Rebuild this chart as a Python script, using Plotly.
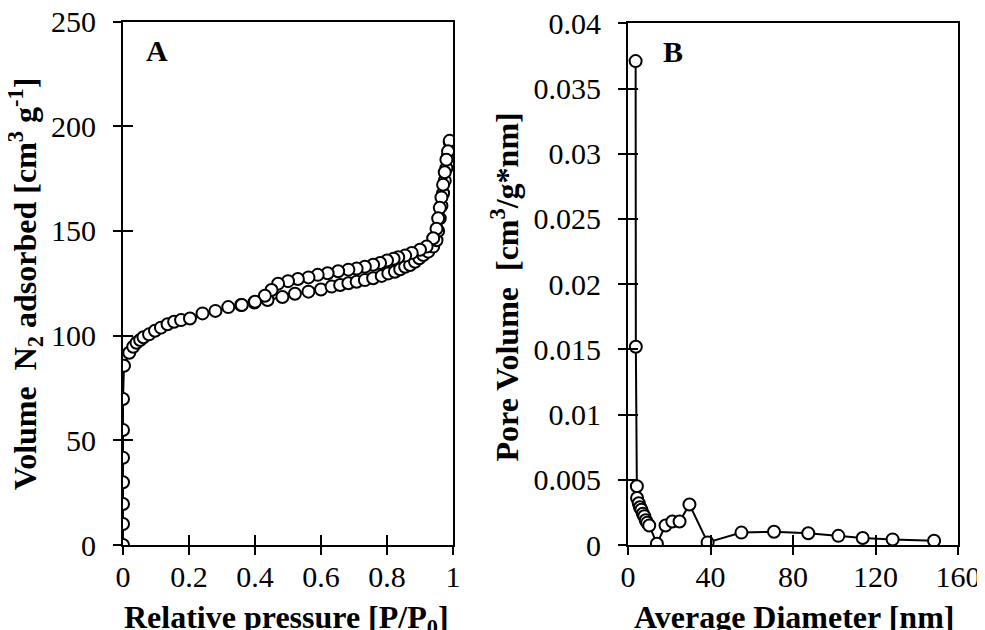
import plotly.graph_objs as go

# Panel A: N2 isotherm, relative pressure vs volume adsorbed
ads_p = [0.0, 0.0, 0.0, 0.0, 0.0, 0.0, 0.0, 0.003, 0.019, 0.031, 0.041, 0.052,
         0.062, 0.079, 0.097, 0.115, 0.135, 0.155, 0.176, 0.203, 0.241, 0.28,
         0.319, 0.358, 0.398, 0.438, 0.483, 0.521, 0.562, 0.6, 0.632, 0.658,
         0.683, 0.708, 0.733, 0.758, 0.784, 0.804, 0.824, 0.84, 0.855, 0.87,
         0.885, 0.898, 0.91, 0.925, 0.94, 0.95, 0.955, 0.96, 0.965, 0.97,
         0.975, 0.98, 0.985, 0.99]
ads_v = [0, 10, 19.6, 30, 41.7, 54.9, 69.7, 85.6, 91.8, 94.7, 96.6, 97.9,
         99.2, 100.6, 102.3, 103.8, 105.4, 106.6, 107.4, 108.2, 110.6, 111.8,
         113.6, 114.6, 115.8, 117.0, 118.4, 120.0, 121.0, 122.0, 123.4, 124.2,
         125.0, 125.7, 126.5, 127.4, 128.5, 129.7, 130.5, 131.7, 132.9, 133.7,
         135.3, 136.9, 138.5, 140.1, 142.5, 145.5, 150, 156, 162, 168,
         174, 180, 186, 192.5]

des_p = [0.99, 0.985, 0.98, 0.975, 0.97, 0.965, 0.96, 0.955, 0.95, 0.94,
         0.92, 0.9, 0.875, 0.855, 0.834, 0.82, 0.8, 0.779, 0.758, 0.733,
         0.708, 0.683, 0.652, 0.62, 0.59, 0.562, 0.53, 0.5, 0.47, 0.45,
         0.43, 0.4, 0.36]
des_v = [193, 188, 184, 178, 172, 166, 161, 156, 151, 146.5,
         142.5, 141, 139.5, 138.2, 137.4, 136.7, 135.9, 134.7, 133.8, 132.9,
         132.0, 131.5, 130.7, 129.8, 129.0, 127.8, 127.0, 126.0, 124.8, 121.8,
         119.0, 116.2, 114.6]

# Panel B: pore size distribution
diam = [3.7, 3.8, 4.3, 4.4, 5.2, 5.8, 6.5, 7.2, 7.9, 8.6, 9.3, 10.3,
        14.0, 18.2, 21.5, 25.0, 29.8, 38.6, 55.0, 70.8, 87.4, 102.0,
        113.8, 128.3, 148.4]
pore_vol = [0.0371, 0.0152, 0.0045, 0.0036, 0.0032, 0.0029, 0.0027, 0.0024,
            0.0022, 0.0019, 0.0017, 0.0015, 0.0001, 0.0015, 0.0018, 0.0018,
            0.0031, 0.0002, 0.00095, 0.00102, 0.0009, 0.0007, 0.00054,
            0.00043, 0.00033]

a_xticks = [0, 0.2, 0.4, 0.6, 0.8, 1]
a_xlabels = ["0", "0.2", "0.4", "0.6", "0.8", "1"]
a_yticks = [0, 50, 100, 150, 200, 250]
a_ylabels = ["0", "50", "100", "150", "200", "250"]
b_xticks = [0, 40, 80, 120, 160]
b_xlabels = ["0", "40", "80", "120", "160"]
b_yticks = [0, 0.005, 0.01, 0.015, 0.02, 0.025, 0.03, 0.035, 0.04]
b_ylabels = ["0", "0.005", "0.01", "0.015", "0.02", "0.025", "0.03", "0.035", "0.04"]

FONT = "Liberation Serif"
# page body has an 8px margin, so the figure is laid out 8px in from the window
W, H = 977, 622
OFF = 8

marker = dict(symbol="circle", size=12, color="white", line=dict(color="black", width=2))
line = dict(color="black", width=2)

fig = go.Figure()
fig.add_trace(go.Scatter(x=ads_p, y=ads_v, mode="lines+markers", marker=marker,
                         line=line, xaxis="x", yaxis="y"))
fig.add_trace(go.Scatter(x=des_p, y=des_v, mode="lines+markers", marker=marker,
                         line=line, xaxis="x", yaxis="y"))
fig.add_trace(go.Scatter(x=diam, y=pore_vol, mode="lines+markers", marker=marker,
                         line=line, xaxis="x2", yaxis="y2"))
# invisible traces on twin subplots carrying the inner half of the crossing ticks
fig.add_trace(go.Scatter(x=[0], y=[0], mode="markers", marker=dict(opacity=0),
                         hoverinfo="skip", xaxis="x3", yaxis="y3"))
fig.add_trace(go.Scatter(x=[0], y=[0], mode="markers", marker=dict(opacity=0),
                         hoverinfo="skip", xaxis="x4", yaxis="y4"))


def xdom(left, right):
    return [(left - OFF) / W, (right - OFF) / W]


def ydom(top, bottom):
    return [1 - (bottom - OFF) / H, 1 - (top - OFF) / H]


ax_dom_x = xdom(123, 453)
bx_dom_x = xdom(628, 958)
ay_dom = ydom(21.5, 545)
by_dom = ydom(23.3, 545)

tickfont = dict(family=FONT, size=30, color="black")
titlefont = dict(family=FONT, size=32, color="black")


def main_axis(domain, rng, tickvals, ticktext, anchor, standoff):
    return dict(domain=domain, range=rng, tickvals=tickvals, ticktext=ticktext,
                ticks="outside", ticklen=8, tickwidth=2, tickcolor="black",
                showline=True, linewidth=2, linecolor="black", mirror=True,
                showgrid=False, zeroline=False, tickfont=tickfont,
                ticklabelstandoff=standoff, ticklabeloverflow="allow",
                anchor=anchor, automargin=False)


def inner_axis(domain, rng, tickvals, anchor):
    return dict(domain=domain, range=rng, tickvals=tickvals, ticks="inside",
                ticklen=10, tickwidth=2, tickcolor="black", showline=False,
                showgrid=False, zeroline=False, showticklabels=False,
                anchor=anchor, automargin=False)


def px_x(x):
    return (x - OFF) / W


def px_y(y):
    return 1 - (y - OFF) / H


titles = [
    dict(text="<b>Relative pressure [P/P<sub>0</sub>]</b>", x=px_x(286), y=px_y(597),
         xanchor="center", yanchor="top", textangle=0),
    dict(text="<b>Average Diameter [nm]</b>", x=px_x(794), y=px_y(597),
         xanchor="center", yanchor="top", textangle=0),
    dict(text="<b>Volume\u00a0 N<sub>2</sub> adsorbed [cm<sup>3</sup> g<sup>-1</sup>]</b>",
         x=px_x(25), y=px_y(284), xanchor="center", yanchor="middle", textangle=-90),
    dict(text="<b>Pore Volume\u00a0 [cm<sup>3</sup>/g*nm]</b>",
         x=px_x(504), y=px_y(286.5), xanchor="center", yanchor="middle", textangle=-90),
]
annotations = []
for t in titles:
    t.update(xref="paper", yref="paper", showarrow=False, font=titlefont)
    annotations.append(t)

annotations.append(dict(text="<b>A</b>", x=0.103, y=0.944, xref="x domain", yref="y domain",
                        xanchor="center", yanchor="middle", showarrow=False,
                        font=dict(family=FONT, size=30, color="black")))
annotations.append(dict(text="<b>B</b>", x=0.136, y=0.945, xref="x2 domain", yref="y2 domain",
                        xanchor="center", yanchor="middle", showarrow=False,
                        font=dict(family=FONT, size=30, color="black")))

fig.update_layout(
    width=W, height=H,
    margin=dict(l=0, r=0, t=0, b=0),
    paper_bgcolor="white", plot_bgcolor="rgba(0,0,0,0)",
    showlegend=False,
    xaxis=main_axis(ax_dom_x, [0, 1], a_xticks, a_xlabels, "y", -4),
    yaxis=main_axis(ay_dom, [0, 250], a_yticks, a_ylabels, "x", 11),
    xaxis2=main_axis(bx_dom_x, [0, 160], b_xticks, b_xlabels, "y2", -4),
    yaxis2=main_axis(by_dom, [0, 0.04], b_yticks, b_ylabels, "x2", 11),
    xaxis3=inner_axis(ax_dom_x, [0, 1], a_xticks, "y3"),
    yaxis3=inner_axis(ay_dom, [0, 250], a_yticks, "x3"),
    xaxis4=inner_axis(bx_dom_x, [0, 160], b_xticks, "y4"),
    yaxis4=inner_axis(by_dom, [0, 0.04], b_yticks, "x4"),
    annotations=annotations,
)

fig.write_html("out.html")
